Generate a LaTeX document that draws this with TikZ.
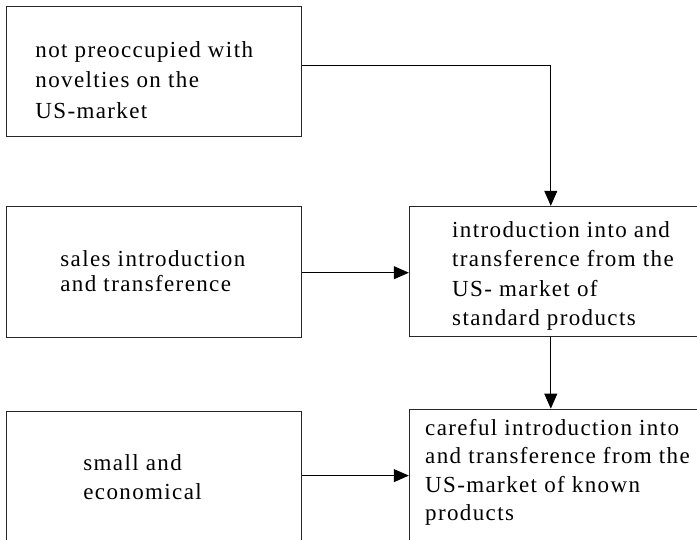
\documentclass[tikz,border=0pt]{standalone}
\usepackage{fontspec}
\newfontfamily\boxfont[LetterSpace=6]{Liberation Serif}
\usetikzlibrary{arrows.meta,positioning}

\begin{document}
\begin{tikzpicture}[
    x = 1pt, y = 1pt,
    > = {Triangle[length=15pt,width=13pt]}, % arrow head style
    node distance = 70pt, % distance between boxes
    line width = 0.8pt
    ]

    \tikzset{box/.style={
    draw = black!85,
    rectangle,
    minimum width = 295pt
    },
    txt/.style={
    anchor = north west,
    inner sep = 0pt,
    align = left,
    font = \boxfont\fontsize{23}{29}\selectfont
    }}
    \useasboundingbox (0,0) rectangle (697,-539);

    % boxes
    \node[box, anchor=north west, minimum height=130pt] (n1) at (6,-6) {};
    \node[box, minimum height=131pt] (n2) [below=69pt of n1] {};
    \node[box, anchor=north west, minimum height=140pt] (n3) at ([yshift=-73pt]n2.south west) {};
    \node[box, anchor=north west, minimum width=330pt, minimum height=130pt] (n4) at ([xshift=107pt]n2.north east) {};
    \node[box, anchor=north west, minimum width=330pt, minimum height=140pt] (n5) at ([yshift=-72pt]n4.south west) {};

    % texts
    \node[txt, font=\boxfont\fontsize{23}{30.5}\selectfont] (l1) at ([xshift=29pt,yshift=-35pt]n1.north west)
        {not preoccupied with\\novelties on the\\US-market};
    \node[txt, font=\boxfont\fontsize{23}{25}\selectfont] (l2) at ([xshift=54pt,yshift=-44pt]n2.north west)
        {sales introduction\\and transference};
    \node[txt] (l3) at ([xshift=77pt,yshift=-44pt]n3.north west)
        {small and\\economical};
    \node[txt, font=\boxfont\fontsize{23}{29.5}\selectfont] (l4) at ([xshift=43pt,yshift=-15pt]n4.north west)
        {introduction into and\\transference from the\\US- market of\\standard products};
    \node[txt, font=\boxfont\fontsize{23}{28.5}\selectfont] (l5) at ([xshift=16pt,yshift=-10pt]n5.north west)
        {careful introduction into\\and transference from the\\US-market of known\\products};

    % where the vertical arrows meet the right boxes
    \coordinate (t4) at ([xshift=142pt]n4.north west);
    \coordinate (b4) at ([xshift=142pt]n4.south west);
    \coordinate (t5) at ([xshift=142pt]n5.north west);

    \draw[->] ([yshift=6pt]n1.east) -| (t4);
    \draw[->] ([yshift=-1pt]n2.east) -- ([yshift=-1pt]n2.east -| n4.west);
    \draw[->] ([yshift=-65pt]n3.north east) -- ([yshift=-65pt]n3.north east -| n5.west);
    \draw[->] (b4) -- (t5);
\end{tikzpicture}
\end{document}
